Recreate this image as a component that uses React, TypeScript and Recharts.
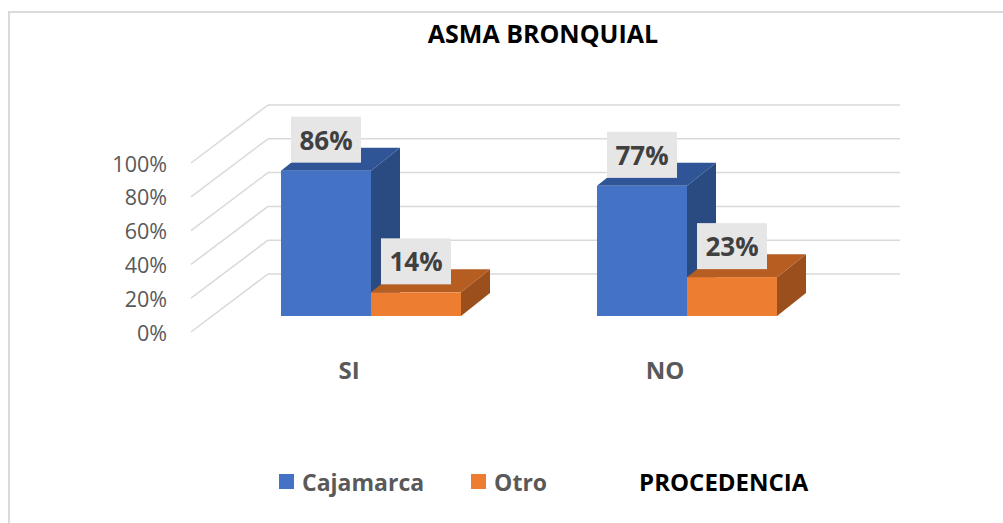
import React from 'react';
import { BarChart, Bar, XAxis, YAxis, CartesianGrid, Legend, LabelList } from 'recharts';

// ── Data ────────────────────────────────────────────────────

const categories = ['SI', 'NO'];
const cajamarca = [0.86, 0.77];
const otro = [0.14, 0.23];
const yTicks = [0, 0.2, 0.4, 0.6, 0.8, 1];

const chartData = categories.map((name, i) => ({
  name,
  Cajamarca: cajamarca[i],
  Otro: otro[i],
}));

// ── Look ────────────────────────────────────────────────────

const FONT = '"Open Sans", "Noto Sans", sans-serif';
const GRID = '#d9d9d9';
const AXIS_TEXT = '#595959';

const BLUE = { front: '#4472C4', top: '#2F5597', side: '#2A4B82' };
const ORANGE = { front: '#ED7D31', top: '#B65D22', side: '#9B4F1D' };

// oblique projection offsets, relative to the plane of the bar fronts
const BACK_DX = 55;
const BACK_DY = -42;
const FRONT_DX = -22;
const FRONT_DY = 16;
const BAR_DX = 29;
const BAR_DY = -23;

const pct = (v: number) => `${Math.round(v * 100)}%`;

// ── Pieces ──────────────────────────────────────────────────

function makeBox(colors: { front: string; top: string; side: string }) {
  return (props: any) => {
    const { x, y, width: w, height: h } = props;
    if (w == null || h == null) return null;
    const top = `${x},${y} ${x + BAR_DX},${y + BAR_DY} ${x + w + BAR_DX},${y + BAR_DY} ${x + w},${y}`;
    const side = `${x + w},${y} ${x + w + BAR_DX},${y + BAR_DY} ${x + w + BAR_DX},${y + h + BAR_DY} ${x + w},${y + h}`;
    return (
      <g>
        <polygon points={side} fill={colors.side} />
        <polygon points={top} fill={colors.top} />
        <rect x={x} y={y} width={w} height={h} fill={colors.front} />
      </g>
    );
  };
}

function ValueLabel(props: any) {
  const { x, y, width, value } = props;
  const cx = x + width / 2;
  const bw = 70;
  const bh = 46;
  const bottom = y - 8;
  return (
    <g>
      <rect x={cx - bw / 2} y={bottom - bh} width={bw} height={bh} fill="#E7E6E6" />
      <text
        x={cx}
        y={bottom - bh / 2}
        textAnchor="middle"
        dominantBaseline="central"
        fontFamily={FONT}
        fontWeight={700}
        fontSize={26}
        fill="#404040"
      >
        {pct(value)}
      </text>
    </g>
  );
}

function GridLine(props: any) {
  const { x1, x2, y1, index } = props;
  return (
    <g key={`grid-${index}-${y1}`}>
      <line
        x1={x1 + BACK_DX}
        y1={y1 + BACK_DY}
        x2={x2 + BACK_DX}
        y2={y1 + BACK_DY}
        stroke={GRID}
        strokeWidth={1.5}
      />
      <line
        x1={x1 + FRONT_DX}
        y1={y1 + FRONT_DY}
        x2={x1 + BACK_DX}
        y2={y1 + BACK_DY}
        stroke={GRID}
        strokeWidth={1.5}
      />
    </g>
  );
}

function YTick(props: any) {
  const { x, y, payload } = props;
  return (
    <text
      x={x - 38}
      y={y + FRONT_DY}
      textAnchor="end"
      dominantBaseline="central"
      fontFamily={FONT}
      fontSize={21.5}
      fill={AXIS_TEXT}
    >
      {pct(payload.value)}
    </text>
  );
}

function XTick(props: any) {
  const { x, y, payload } = props;
  return (
    <text
      x={x + FRONT_DX}
      y={y + 45}
      textAnchor="middle"
      dominantBaseline="central"
      fontFamily={FONT}
      fontWeight={700}
      fontSize={24}
      fill={AXIS_TEXT}
    >
      {payload.value}
    </text>
  );
}

function LegendContent(props: any) {
  const { payload = [] } = props;
  return (
    <div style={{ display: 'flex', alignItems: 'center', fontFamily: FONT, fontWeight: 700, fontSize: 23 }}>
      {payload.map((entry: any, i: number) => (
        <div key={i} style={{ display: 'flex', alignItems: 'center', marginRight: 47 }}>
          <span style={{ width: 15, height: 15, background: entry.color, marginRight: 8, display: 'inline-block' }} />
          <span style={{ color: AXIS_TEXT }}>{entry.value}</span>
        </div>
      ))}
      <span style={{ color: '#000', marginLeft: 45, fontSize: 24 }}>PROCEDENCIA</span>
    </div>
  );
}

// ── Chart ───────────────────────────────────────────────────

export default function App() {
  return (
    <div style={{ position: 'absolute', left: 0, top: 0, width: 1003, height: 523, background: '#fff', overflow: 'hidden' }}>
      <div
        style={{
          position: 'absolute',
          left: 8,
          top: 11,
          width: 1100,
          height: 600,
          borderLeft: `2px solid ${GRID}`,
          borderTop: `2px solid ${GRID}`,
        }}
      />
      <div
        style={{
          position: 'absolute',
          left: 343,
          top: 16,
          width: 400,
          textAlign: 'center',
          fontFamily: FONT,
          fontWeight: 700,
          fontSize: 25,
          color: '#000',
        }}
      >
        ASMA BRONQUIAL
      </div>
      <div style={{ position: 'absolute', left: 0, top: 0 }}>
        <BarChart
          width={1003}
          height={523}
          data={chartData}
          margin={{ top: 147, right: 158, bottom: 177, left: 153 }}
          barGap={0}
          barSize={90}
        >
          <CartesianGrid vertical={false} horizontal={GridLine} />
          <XAxis dataKey="name" axisLine={false} tickLine={false} tick={<XTick />} height={30} />
          <YAxis
            domain={[0, 1]}
            ticks={yTicks}
            axisLine={false}
            tickLine={false}
            tick={<YTick />}
            width={60}
          />
          <Legend
            verticalAlign="middle"
            content={<LegendContent />}
            wrapperStyle={{ position: 'absolute', left: 279, top: 465, width: 'auto' }}
          />
          <Bar dataKey="Cajamarca" fill={BLUE.front} shape={makeBox(BLUE)} isAnimationActive={false}>
            <LabelList dataKey="Cajamarca" content={<ValueLabel />} />
          </Bar>
          <Bar dataKey="Otro" fill={ORANGE.front} shape={makeBox(ORANGE)} isAnimationActive={false}>
            <LabelList dataKey="Otro" content={<ValueLabel />} />
          </Bar>
        </BarChart>
      </div>
    </div>
  );
}
